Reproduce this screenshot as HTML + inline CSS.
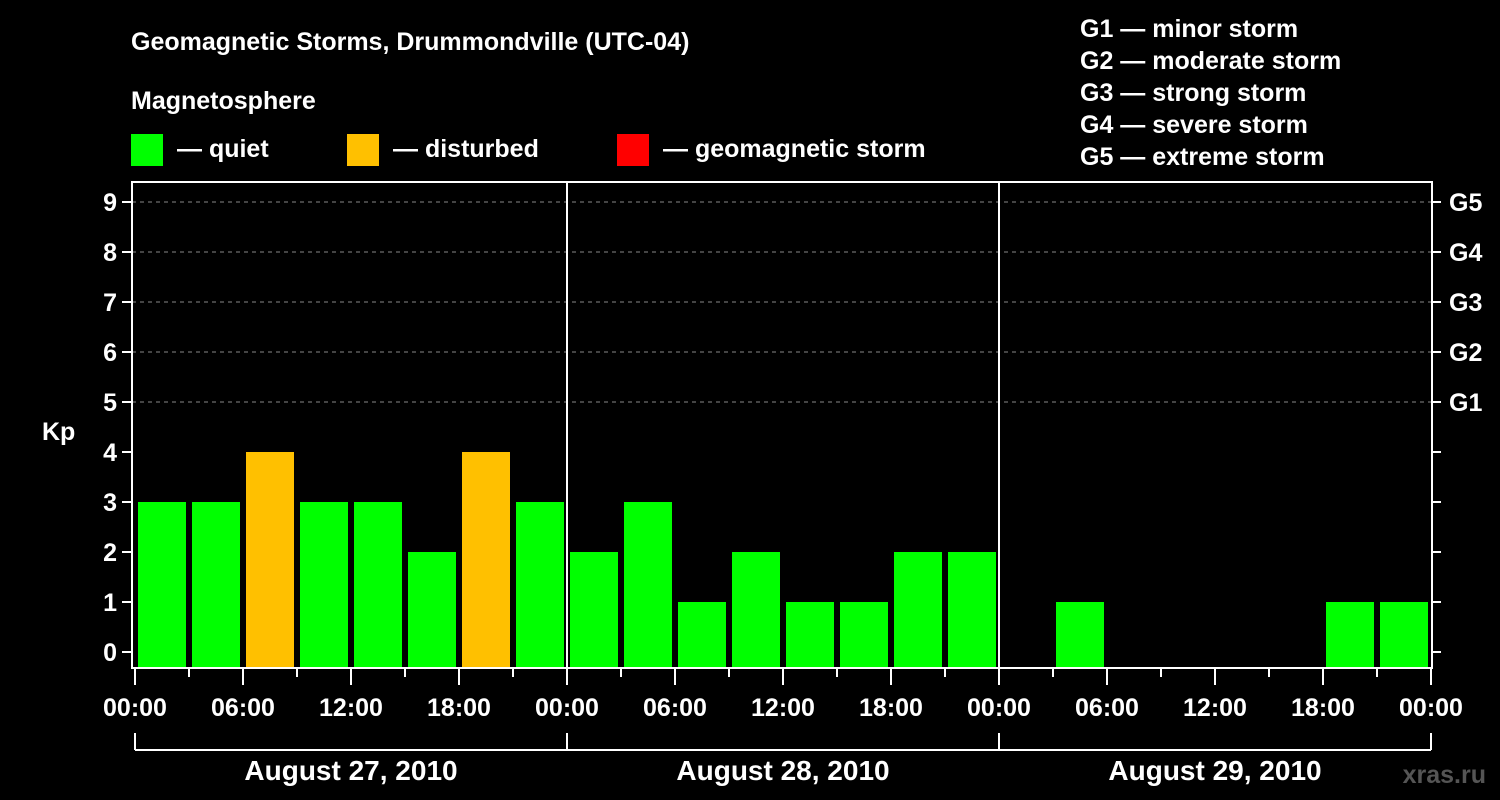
<!DOCTYPE html>
<html><head><meta charset="utf-8"><style>
body{margin:0;background:#000;}
svg{display:block;font-family:"Liberation Sans",Arial,sans-serif;font-weight:bold;}
</style></head><body>
<svg id="chart" width="1500" height="800" viewBox="0 0 1500 800">
<rect width="1500" height="800" fill="#000"/>
<text x="131" y="50" fill="#fff" font-size="25">Geomagnetic Storms, Drummondville (UTC-04)</text>
<text x="131" y="109" fill="#fff" font-size="25">Magnetosphere</text>
<g><rect x="131" y="134" width="32" height="32" fill="#00ff00"/><text x="177" y="157" fill="#fff" font-size="25">— quiet</text></g>
<g><rect x="347" y="134" width="32" height="32" fill="#ffc000"/><text x="393" y="157" fill="#fff" font-size="25">— disturbed</text></g>
<g><rect x="617" y="134" width="32" height="32" fill="#ff0000"/><text x="663" y="157" fill="#fff" font-size="25">— geomagnetic storm</text></g>
<g fill="#fff" font-size="25">
<text x="1080" y="37">G1 — minor storm</text>
<text x="1080" y="69">G2 — moderate storm</text>
<text x="1080" y="101">G3 — strong storm</text>
<text x="1080" y="133">G4 — severe storm</text>
<text x="1080" y="165">G5 — extreme storm</text>
</g>
<text x="42" y="440" fill="#fff" font-size="25">Kp</text>
<text x="1486" y="783" fill="#555" font-size="25" text-anchor="end">xras.ru</text>
<g id="plot"></g>
</svg>
<script>
const kpValues=[3,3,4,3,3,2,4,3, 2,3,1,2,1,1,2,2, null,1,null,null,null,null,1,1];
const dayLabels=["August 27, 2010","August 28, 2010","August 29, 2010"];
const hourLabels=["00:00","06:00","12:00","18:00"];
const gLabels=["G1","G2","G3","G4","G5"];
const NS="http://www.w3.org/2000/svg";
const g=document.getElementById('plot');
const X0=135,DAY=432,L=132,R=1432,T=182,B=668;
const xs=h=>X0+h*DAY/24;
const ys=v=>652-50*v;
function mk(tag,a,parent){const e=document.createElementNS(NS,tag);for(const k in a)e.setAttribute(k,a[k]);(parent||g).appendChild(e);return e;}
// gridlines
for(let v=5;v<=9;v++){
 const l=mk('line',{x1:L,x2:R,y1:ys(v),y2:ys(v),stroke:'#888','stroke-dasharray':'4,4','stroke-width':1});
 
 
}
// bars
kpValues.forEach((v,i)=>{
 if(v===null)return;
 let x=xs(i*3+1.5)-24, w=48;
 if(x<L+4){w-= (L+4-x); x=L+4;}
 const r=mk('rect',{x:x,y:ys(v),width:w,height:B-1-ys(v),fill:v>=5?'#ff0000':(v>=4?'#ffc000':'#00ff00')});
 
 
});
// day separators
for(let d=1;d<3;d++){
 const l=mk('line',{x1:xs(d*24),x2:xs(d*24),y1:T,y2:B,stroke:'#fff','stroke-width':2});
 
 
}
// frame
const f=mk('rect',{x:L,y:T,width:R-L,height:B-T,fill:'none',stroke:'#fff','stroke-width':2});


// y ticks
for(let v=0;v<=9;v++){
 mk('line',{x1:L-10,x2:L,y1:ys(v),y2:ys(v),stroke:'#fff','stroke-width':2});
 mk('line',{x1:R,x2:R+9,y1:ys(v),y2:ys(v),stroke:'#fff','stroke-width':2});
 const t=mk('text',{x:L-15,y:ys(v)+9,fill:'#fff','font-size':25,'text-anchor':'end'});
 t.textContent=v;
 
 
}
gLabels.forEach((s,i)=>{
 const t=mk('text',{x:R+17,y:ys(5+i)+9,fill:'#fff','font-size':25});
 t.textContent=s;
 
 
});
// x ticks
for(let h=0;h<=72;h+=3){
 const major=h%6===0;
 mk('line',{x1:xs(h),x2:xs(h),y1:B,y2:major?B+17:B+9,stroke:'#fff','stroke-width':2});
 if(major){
  const t=mk('text',{x:xs(h),y:716,fill:'#fff','font-size':25,'text-anchor':'middle'});
  t.textContent=hourLabels[(h/6)%4];
  
  
 }
}
// day brackets
mk('line',{x1:xs(0),x2:xs(72),y1:750,y2:750,stroke:'#fff','stroke-width':2});
for(let d=0;d<=3;d++) mk('line',{x1:xs(d*24),x2:xs(d*24),y1:733,y2:750,stroke:'#fff','stroke-width':2});
dayLabels.forEach((s,d)=>{
 const t=mk('text',{x:xs(d*24+12),y:780,fill:'#fff','font-size':28,'text-anchor':'middle'});
 t.textContent=s;
 
 
});
</script>
</body></html>
